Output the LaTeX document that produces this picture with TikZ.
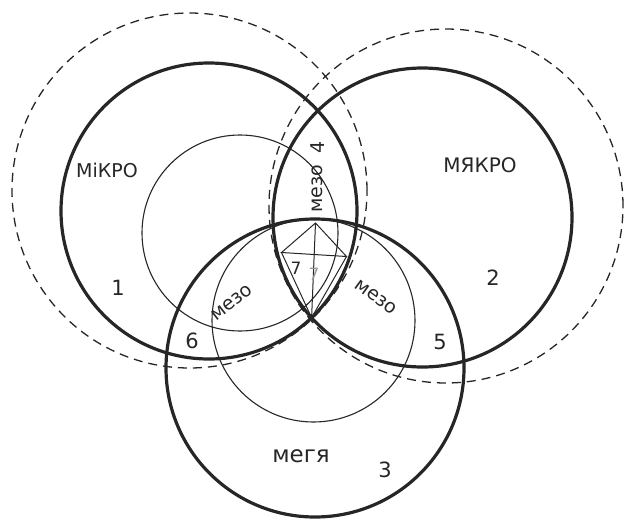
\documentclass[tikz,border=0pt]{standalone}
\usepackage{fontspec}
\setmainfont{DejaVu Sans}
\begin{document}
\begin{tikzpicture}[x=1pt,y=-1pt,
  thickc/.style={line width=3.2pt,draw=black!85},
  thinc/.style={line width=1.1pt,draw=black!85},
  dashc/.style={line width=1.3pt,draw=black!85,dash pattern=on 9pt off 6pt},
  kite/.style={line width=1pt,draw=black!85},
  lbl/.style={inner sep=0pt,text=black!85}]
\useasboundingbox (0,0) rectangle (625,520);
% dashed outer circles
\draw[dashc] (189.5,190.5) circle[radius=177.5pt];
\draw[dashc] (446,206) circle[radius=177pt];
% thin inner circles
\draw[thinc] (240,233) circle[radius=98pt];
\draw[thinc] (313.5,320.5) circle[radius=101.5pt];
% thick main circles
\draw[thickc] (209,211) circle[radius=148pt];
\draw[thickc] (422.5,217.5) circle[radius=149.5pt];
\draw[thickc] (315,368) circle[radius=149pt];
% central kite
\coordinate (T) at (315.5,223);
\coordinate (L) at (281.5,252.5);
\coordinate (R) at (346.5,256.5);
\coordinate (B) at (311.6,317.7);
\draw[kite] (T) -- (L) -- (R) -- cycle;
\draw[kite] (T) -- (B);
\draw[kite] (L) -- (B) -- (R);
% labels
\node[lbl,font=\fontsize{19}{19}\selectfont] (mikro) at (107,170) {МіКРО};
\node[lbl,font=\fontsize{20}{20}\selectfont] (makro) at (480,165) {МЯКРО};
\node[lbl,font=\fontsize{23}{23}\selectfont] (mega) at (301,456) {мегя};
\node[lbl,font=\fontsize{19}{19}\selectfont,rotate=38] (mezoL) at (232,303) {мезо};
\node[lbl,font=\fontsize{19}{19}\selectfont,rotate=-36] (mezoR) at (376,297) {мезо};
\node[lbl,font=\fontsize{19}{19}\selectfont,rotate=90] (mezoT) at (317,189) {мезо};
\node[lbl,font=\fontsize{19}{19}\selectfont,rotate=90] (n4) at (318,147) {4};
\node[lbl,font=\fontsize{21}{21}\selectfont] (n1) at (118,288) {1};
\node[lbl,font=\fontsize{21}{21}\selectfont] (n2) at (493,278) {2};
\node[lbl,font=\fontsize{21}{21}\selectfont] (n3) at (385,470) {3};
\node[lbl,font=\fontsize{21}{21}\selectfont] (n5) at (440,342) {5};
\node[lbl,font=\fontsize{21}{21}\selectfont] (n6) at (192,341) {6};
\node[lbl,font=\fontsize{17}{17}\selectfont] (n7) at (296,268) {7};
\node[lbl,font=\fontsize{17}{17}\selectfont,text=black!40] (n7b) at (314,274) {7};
\end{tikzpicture}
\end{document}
